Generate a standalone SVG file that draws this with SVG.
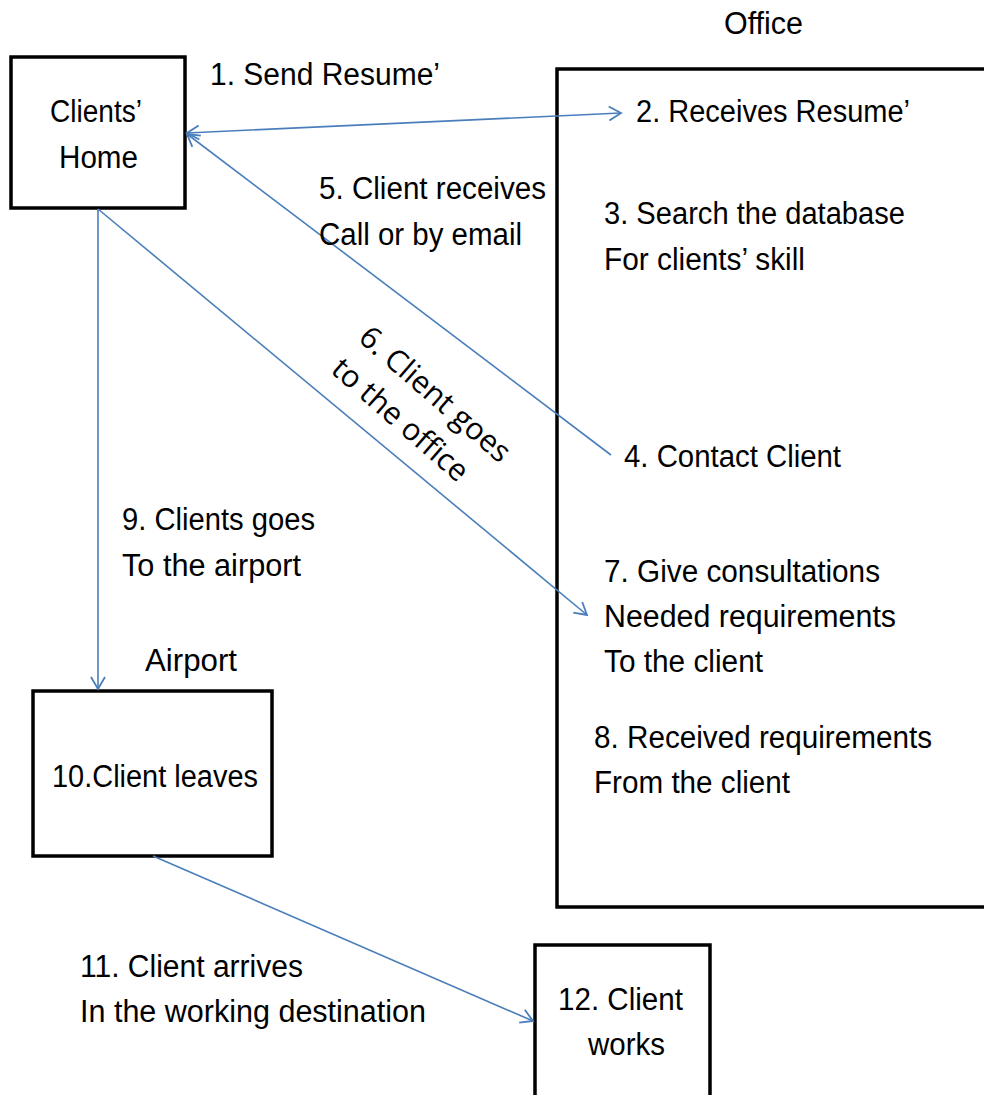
<svg xmlns="http://www.w3.org/2000/svg" width="984" height="1095" viewBox="0 0 984 1095">
  <style>
    .box { fill: #ffffff; stroke: #000000; stroke-width: 3.5; }
    .lbl { font-family: "Liberation Sans", Arial, sans-serif; font-size: 31px; fill: #000000; }
    .mid { text-anchor: middle; }
    .rot { font-family: "Open Sans", "Noto Sans", sans-serif; font-size: 30.5px; fill: #000000; }
    .link { fill: none; stroke: #4a7ebb; stroke-width: 1.6; }
  </style>
  <defs>
    <marker id="chev" markerUnits="userSpaceOnUse" viewBox="-14 -9 16 18" refX="0" refY="0" markerWidth="16" markerHeight="18" orient="auto-start-reverse">
      <path d="M-12,-7 L0,0 L-12,7" fill="none" stroke="#4a7ebb" stroke-width="1.8"/>
    </marker>
  </defs>

  <rect width="984" height="1095" fill="#ffffff"/>

  <!-- boxes -->
  <g id="office">
    <rect class="box" x="557" y="69" width="440" height="838"/>
    <text class="lbl" x="724" y="34" textLength="79" lengthAdjust="spacingAndGlyphs">Office</text>
    <text class="lbl" x="636" y="122" textLength="274" lengthAdjust="spacingAndGlyphs">2. Receives Resume’</text>
    <text class="lbl" x="604" y="224" textLength="301" lengthAdjust="spacingAndGlyphs">3. Search the database</text>
    <text class="lbl" x="604" y="270" textLength="201" lengthAdjust="spacingAndGlyphs">For clients’ skill</text>
    <text class="lbl" x="624" y="467" textLength="217" lengthAdjust="spacingAndGlyphs">4. Contact Client</text>
    <text class="lbl" x="604" y="582" textLength="276" lengthAdjust="spacingAndGlyphs">7. Give consultations</text>
    <text class="lbl" x="604" y="627" textLength="292" lengthAdjust="spacingAndGlyphs">Needed requirements</text>
    <text class="lbl" x="604" y="672" textLength="159" lengthAdjust="spacingAndGlyphs">To the client</text>
    <text class="lbl" x="594" y="748" textLength="338" lengthAdjust="spacingAndGlyphs">8. Received requirements</text>
    <text class="lbl" x="594" y="793" textLength="196" lengthAdjust="spacingAndGlyphs">From the client</text>
  </g>

  <g id="home">
    <rect class="box" x="11" y="57" width="174" height="151"/>
    <text class="lbl" x="50" y="122" textLength="92" lengthAdjust="spacingAndGlyphs">Clients’</text>
    <text class="lbl" x="59" y="168" textLength="79" lengthAdjust="spacingAndGlyphs">Home</text>
  </g>

  <g id="airport">
    <rect class="box" x="33" y="691" width="239" height="165"/>
    <text class="lbl" x="145" y="671" textLength="92" lengthAdjust="spacingAndGlyphs">Airport</text>
    <text class="lbl" x="52" y="787" textLength="206" lengthAdjust="spacingAndGlyphs">10.Client leaves</text>
  </g>

  <g id="work">
    <rect class="box" x="535" y="945" width="175" height="170"/>
    <text class="lbl" x="558" y="1010" textLength="125" lengthAdjust="spacingAndGlyphs">12. Client</text>
    <text class="lbl" x="588" y="1055" textLength="77" lengthAdjust="spacingAndGlyphs">works</text>
  </g>

  <!-- connectors -->
  <g id="connectors">
    <line class="link" x1="187" y1="133" x2="621" y2="113" marker-start="url(#chev)" marker-end="url(#chev)"/>
    <line class="link" x1="611" y1="455" x2="187" y2="134" marker-end="url(#chev)"/>
    <line class="link" x1="98" y1="209" x2="587" y2="615" marker-end="url(#chev)"/>
    <line class="link" x1="98" y1="209" x2="98" y2="689" marker-end="url(#chev)"/>
    <line class="link" x1="153" y1="856" x2="533" y2="1021" marker-end="url(#chev)"/>
  </g>

  <!-- connector labels -->
  <g id="labels">
    <text class="lbl" x="210" y="85" textLength="230" lengthAdjust="spacingAndGlyphs">1. Send Resume’</text>
    <text class="lbl" x="319" y="199" textLength="227" lengthAdjust="spacingAndGlyphs">5. Client receives</text>
    <text class="lbl" x="319" y="245" textLength="203" lengthAdjust="spacingAndGlyphs">Call or by email</text>
    <g transform="translate(357,340) rotate(41)">
      <text class="rot" x="0" y="0">6. Client goes</text>
      <text class="rot" x="0" y="42">to the office</text>
    </g>
    <text class="lbl" x="122" y="530" textLength="193" lengthAdjust="spacingAndGlyphs">9. Clients goes</text>
    <text class="lbl" x="122" y="576" textLength="179" lengthAdjust="spacingAndGlyphs">To the airport</text>
    <text class="lbl" x="80" y="977" textLength="223" lengthAdjust="spacingAndGlyphs">11. Client arrives</text>
    <text class="lbl" x="80" y="1022" textLength="346" lengthAdjust="spacingAndGlyphs">In the working destination</text>
  </g>
</svg>
